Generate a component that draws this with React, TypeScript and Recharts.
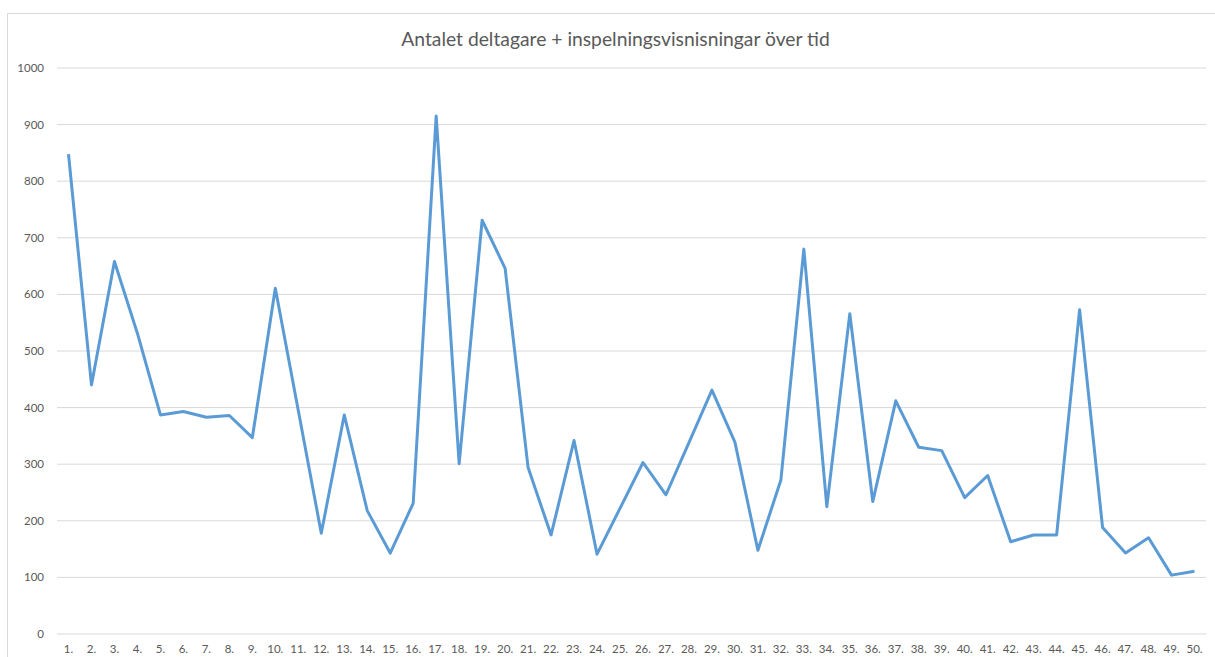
import { LineChart, CartesianGrid, XAxis, YAxis, Line } from 'recharts'

const TITLE = 'Antalet deltagare + inspelningsvisnisningar över tid'

const SESSIONS = Array.from({ length: 50 }, (_, i) => `${i + 1}.`)

const VIEWERS = [
  848, 440, 658, 531, 387, 393, 383, 386, 347, 611,
  395, 178, 387, 218, 143, 231, 915, 301, 731, 646,
  294, 175, 342, 141, 222, 303, 246, 338, 431, 339,
  148, 272, 680, 225, 566, 234, 412, 330, 324, 241,
  280, 163, 175, 175, 573, 188, 143, 170, 104, 111,
]

const Y_TICKS = [0, 100, 200, 300, 400, 500, 600, 700, 800, 900, 1000]

const FONT = 'Lato, "Open Sans", sans-serif'
const TICK = { fill: '#595959', fontSize: 11.5, fontFamily: FONT }

const data = SESSIONS.map((s, i) => ({ session: s, value: VIEWERS[i] }))

export default function App() {
  return (
    <div
      style={{
        position: 'absolute',
        left: 7,
        top: 13,
        width: 1210,
        height: 646,
        borderTop: '1px solid #d9d9d9',
        borderLeft: '1px solid #d9d9d9',
        background: '#fff',
        overflow: 'hidden',
      }}
    >
      <div
        style={{
          position: 'absolute',
          top: 13,
          left: 0,
          width: 1215,
          textAlign: 'center',
          fontFamily: FONT,
          fontSize: 19.3,
          color: '#595959',
        }}
      >
        {TITLE}
      </div>
      <LineChart
        width={1208}
        height={644}
        data={data}
        margin={{ top: 54, right: 10, bottom: 0, left: 0 }}
      >
        <CartesianGrid stroke="#d9d9d9" vertical={false} />
        <XAxis
          dataKey="session"
          interval={0}
          tick={TICK}
          tickLine={false}
          axisLine={false}
          tickSize={0}
          tickMargin={11}
          height={24}
          padding={{ left: 11.5, right: 11.5 }}
        />
        <YAxis
          domain={[0, 1000]}
          ticks={Y_TICKS}
          tick={TICK}
          tickLine={false}
          axisLine={false}
          tickSize={0}
          tickMargin={13}
          width={49}
        />
        <Line
          dataKey="value"
          stroke="#5b9bd5"
          strokeWidth={3}
          strokeLinejoin="round"
          dot={false}
          isAnimationActive={false}
        />
      </LineChart>
    </div>
  )
}
